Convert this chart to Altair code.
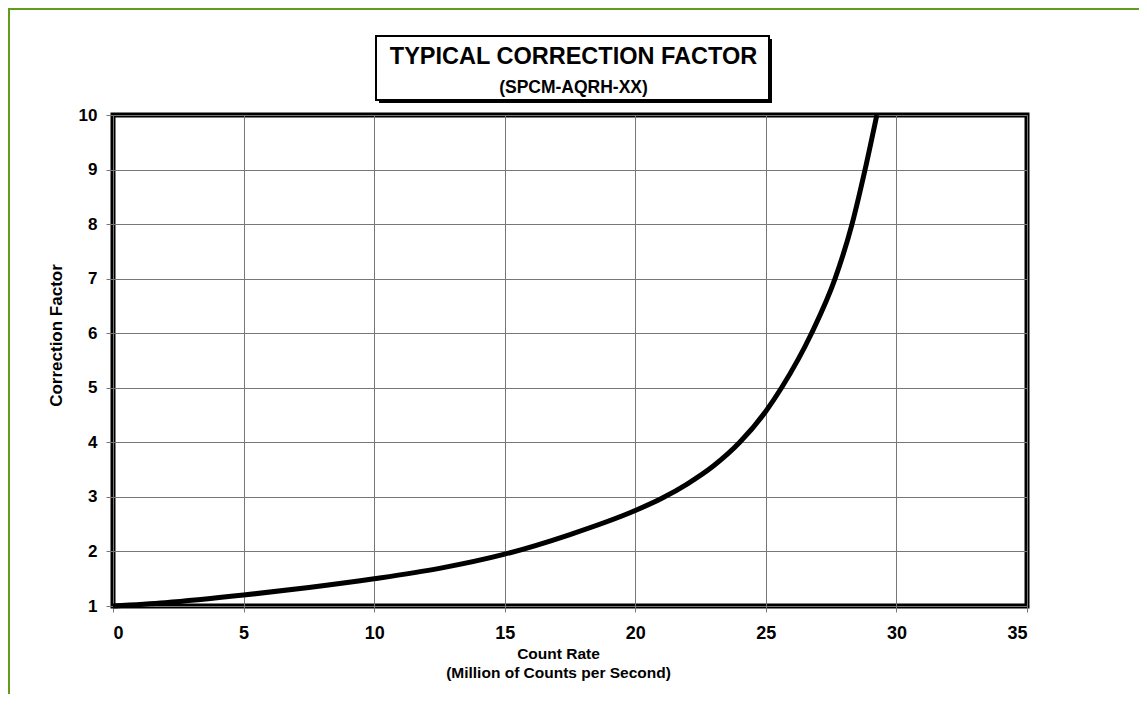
import altair as alt
import pandas as pd

# Data
count_rate = [0, 2, 5, 7.5, 10, 12.5, 15, 17.5, 20, 21, 22, 23, 24, 25, 25.6, 26.75, 27.65, 28.3, 28.8, 29.25]
correction = [1.0, 1.06, 1.2, 1.34, 1.5, 1.69, 1.95, 2.31, 2.75, 2.97, 3.24, 3.57, 4.0, 4.57, 5.0, 6.0, 7.0, 8.0, 9.0, 10.0]
x_ticks = [0, 5, 10, 15, 20, 25, 30, 35]
y_ticks = [1, 2, 3, 4, 5, 6, 7, 8, 9, 10]
title_main = "TYPICAL CORRECTION FACTOR"
title_sub = "(SPCM-AQRH-XX)"
x_title = ["Count Rate", "(Million of Counts per Second)"]
y_title = "Correction Factor"

FONT = "Liberation Sans"
W, H = 914, 491
PAD_L, PAD_T, PAD_R, PAD_B = 105, 107, 112, 88

df = pd.DataFrame({"x": count_rate, "y": correction})
one = pd.DataFrame({"k": [0]})

line = alt.Chart(df).mark_line(color="black", strokeWidth=5, interpolate="monotone").encode(
    x=alt.X("x:Q", scale=alt.Scale(domain=[0, 35], nice=False),
            axis=alt.Axis(values=x_ticks, title=x_title, tickSize=6, labelPadding=12,
                          labelFontSize=18, titleFontSize=15.5, titlePadding=4,
                          titleLineHeight=19, titleX=445, format="d")),
    y=alt.Y("y:Q", scale=alt.Scale(domain=[1, 10], nice=False, zero=False),
            axis=alt.Axis(values=y_ticks, title=y_title, tickSize=7, labelPadding=9,
                          labelFontSize=17, titleFontSize=17, titlePadding=13,
                          titleY=220, format="d")),
)

# title box (shadow + box)
bx0, bx1, by0, by1 = 263, 656, -79, -15
shadow = alt.Chart(one).mark_rect(color="black").encode(
    x=alt.value(bx0 + 3), x2=alt.value(bx1 + 3), y=alt.value(by0 + 3), y2=alt.value(by1 + 3))
box = alt.Chart(one).mark_rect(fill="white", stroke="black", strokeWidth=2).encode(
    x=alt.value(bx0), x2=alt.value(bx1), y=alt.value(by0), y2=alt.value(by1))
t1 = alt.Chart(one).mark_text(text=title_main, font=FONT, fontWeight="bold", fontSize=23.5,
                              align="center", baseline="alphabetic", color="black").encode(
    x=alt.value((bx0 + bx1) / 2 + 1), y=alt.value(-51))
t2 = alt.Chart(one).mark_text(text=title_sub, font=FONT, fontWeight="bold", fontSize=17.5,
                              align="center", baseline="alphabetic", color="black").encode(
    x=alt.value((bx0 + bx1) / 2 + 1), y=alt.value(-22))

# green page border (top and left)
green = "#5f9c1f"
top_rule = alt.Chart(one).mark_rule(color=green, strokeWidth=2).encode(
    x=alt.value(-PAD_L), x2=alt.value(W + PAD_R), y=alt.value(-PAD_T + 1))
left_rule = alt.Chart(one).mark_rule(color=green, strokeWidth=2).encode(
    x=alt.value(-PAD_L + 1), y=alt.value(-PAD_T), y2=alt.value(H + PAD_B))

chart = alt.layer(line, shadow, box, t1, t2, top_rule, left_rule).properties(
    width=W, height=H,
    autosize=alt.AutoSizeParams(type="none"),
    padding={"left": PAD_L, "top": PAD_T, "right": PAD_R, "bottom": PAD_B},
).configure_view(
    stroke="black", strokeWidth=5
).configure_axis(
    grid=True, gridColor="#777777", gridWidth=1, gridOpacity=1,
    domain=False, tickColor="#777777", tickWidth=1,
    labelFont=FONT, labelFontWeight="bold", labelColor="black",
    titleFont=FONT, titleFontWeight="bold", titleColor="black",
)

chart.save("out.html", embed_options={"renderer": "svg", "actions": False})
